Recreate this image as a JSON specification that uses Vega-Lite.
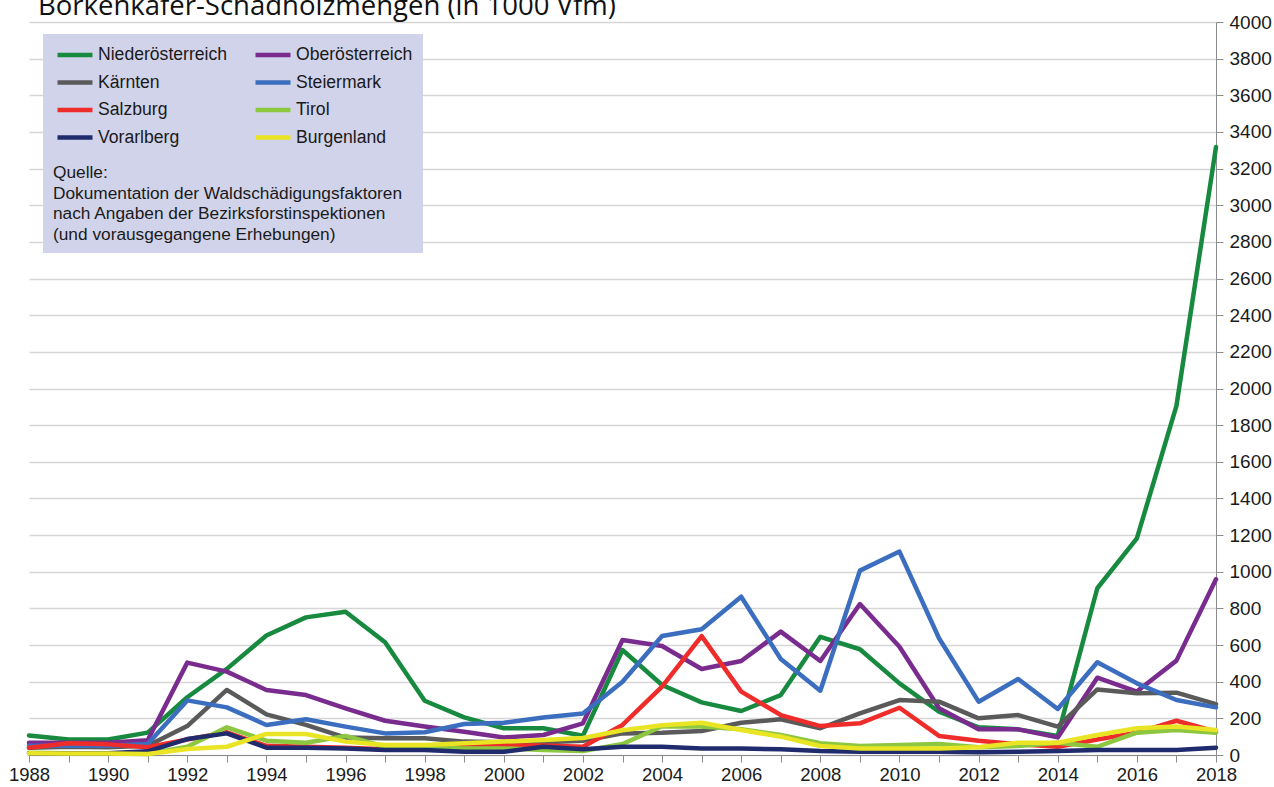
{
  "$schema": "https://vega.github.io/schema/vega-lite/v6.json",
  "width": 1187,
  "height": 733,
  "autosize": {"type": "none"},
  "padding": {"left": 29, "top": 22, "right": 58, "bottom": 32},
  "background": "white",
  "title": {
    "text": "Borkenkäfer-Schadholzmengen  (in 1000 Vfm)",
    "anchor": "start",
    "frame": "group",
    "dx": 9,
    "offset": -29,
    "baseline": "alphabetic",
    "font": "Open Sans",
    "fontSize": 27.5,
    "fontWeight": "normal",
    "color": "#111111"
  },
  "config": {
    "view": {"stroke": null},
    "font": "Liberation Sans"
  },
  "data": {
    "values": [
      {"Jahr":1988,"Land":"Niederösterreich","Wert":107},{"Jahr":1989,"Land":"Niederösterreich","Wert":84},{"Jahr":1990,"Land":"Niederösterreich","Wert":85},{"Jahr":1991,"Land":"Niederösterreich","Wert":122},{"Jahr":1992,"Land":"Niederösterreich","Wert":315},{"Jahr":1993,"Land":"Niederösterreich","Wert":470},{"Jahr":1994,"Land":"Niederösterreich","Wert":652},{"Jahr":1995,"Land":"Niederösterreich","Wert":751},{"Jahr":1996,"Land":"Niederösterreich","Wert":782},{"Jahr":1997,"Land":"Niederösterreich","Wert":615},{"Jahr":1998,"Land":"Niederösterreich","Wert":296},{"Jahr":1999,"Land":"Niederösterreich","Wert":205},{"Jahr":2000,"Land":"Niederösterreich","Wert":146},{"Jahr":2001,"Land":"Niederösterreich","Wert":146},{"Jahr":2002,"Land":"Niederösterreich","Wert":105},{"Jahr":2003,"Land":"Niederösterreich","Wert":573},{"Jahr":2004,"Land":"Niederösterreich","Wert":382},{"Jahr":2005,"Land":"Niederösterreich","Wert":287},{"Jahr":2006,"Land":"Niederösterreich","Wert":240},{"Jahr":2007,"Land":"Niederösterreich","Wert":327},{"Jahr":2008,"Land":"Niederösterreich","Wert":645},{"Jahr":2009,"Land":"Niederösterreich","Wert":577},{"Jahr":2010,"Land":"Niederösterreich","Wert":391},{"Jahr":2011,"Land":"Niederösterreich","Wert":236},{"Jahr":2012,"Land":"Niederösterreich","Wert":151},{"Jahr":2013,"Land":"Niederösterreich","Wert":140},{"Jahr":2014,"Land":"Niederösterreich","Wert":104},{"Jahr":2015,"Land":"Niederösterreich","Wert":910},{"Jahr":2016,"Land":"Niederösterreich","Wert":1182},{"Jahr":2017,"Land":"Niederösterreich","Wert":1905},{"Jahr":2018,"Land":"Niederösterreich","Wert":3318},
      {"Jahr":1988,"Land":"Oberösterreich","Wert":67},{"Jahr":1989,"Land":"Oberösterreich","Wert":67},{"Jahr":1990,"Land":"Oberösterreich","Wert":67},{"Jahr":1991,"Land":"Oberösterreich","Wert":80},{"Jahr":1992,"Land":"Oberösterreich","Wert":504},{"Jahr":1993,"Land":"Oberösterreich","Wert":455},{"Jahr":1994,"Land":"Oberösterreich","Wert":355},{"Jahr":1995,"Land":"Oberösterreich","Wert":327},{"Jahr":1996,"Land":"Oberösterreich","Wert":255},{"Jahr":1997,"Land":"Oberösterreich","Wert":187},{"Jahr":1998,"Land":"Oberösterreich","Wert":155},{"Jahr":1999,"Land":"Oberösterreich","Wert":127},{"Jahr":2000,"Land":"Oberösterreich","Wert":96},{"Jahr":2001,"Land":"Oberösterreich","Wert":109},{"Jahr":2002,"Land":"Oberösterreich","Wert":173},{"Jahr":2003,"Land":"Oberösterreich","Wert":628},{"Jahr":2004,"Land":"Oberösterreich","Wert":595},{"Jahr":2005,"Land":"Oberösterreich","Wert":469},{"Jahr":2006,"Land":"Oberösterreich","Wert":513},{"Jahr":2007,"Land":"Oberösterreich","Wert":673},{"Jahr":2008,"Land":"Oberösterreich","Wert":513},{"Jahr":2009,"Land":"Oberösterreich","Wert":824},{"Jahr":2010,"Land":"Oberösterreich","Wert":591},{"Jahr":2011,"Land":"Oberösterreich","Wert":255},{"Jahr":2012,"Land":"Oberösterreich","Wert":140},{"Jahr":2013,"Land":"Oberösterreich","Wert":140},{"Jahr":2014,"Land":"Oberösterreich","Wert":96},{"Jahr":2015,"Land":"Oberösterreich","Wert":422},{"Jahr":2016,"Land":"Oberösterreich","Wert":346},{"Jahr":2017,"Land":"Oberösterreich","Wert":515},{"Jahr":2018,"Land":"Oberösterreich","Wert":959},
      {"Jahr":1988,"Land":"Kärnten","Wert":40},{"Jahr":1989,"Land":"Kärnten","Wert":45},{"Jahr":1990,"Land":"Kärnten","Wert":42},{"Jahr":1991,"Land":"Kärnten","Wert":50},{"Jahr":1992,"Land":"Kärnten","Wert":158},{"Jahr":1993,"Land":"Kärnten","Wert":355},{"Jahr":1994,"Land":"Kärnten","Wert":222},{"Jahr":1995,"Land":"Kärnten","Wert":164},{"Jahr":1996,"Land":"Kärnten","Wert":95},{"Jahr":1997,"Land":"Kärnten","Wert":91},{"Jahr":1998,"Land":"Kärnten","Wert":91},{"Jahr":1999,"Land":"Kärnten","Wert":73},{"Jahr":2000,"Land":"Kärnten","Wert":69},{"Jahr":2001,"Land":"Kärnten","Wert":69},{"Jahr":2002,"Land":"Kärnten","Wert":78},{"Jahr":2003,"Land":"Kärnten","Wert":118},{"Jahr":2004,"Land":"Kärnten","Wert":122},{"Jahr":2005,"Land":"Kärnten","Wert":131},{"Jahr":2006,"Land":"Kärnten","Wert":176},{"Jahr":2007,"Land":"Kärnten","Wert":195},{"Jahr":2008,"Land":"Kärnten","Wert":146},{"Jahr":2009,"Land":"Kärnten","Wert":227},{"Jahr":2010,"Land":"Kärnten","Wert":300},{"Jahr":2011,"Land":"Kärnten","Wert":291},{"Jahr":2012,"Land":"Kärnten","Wert":200},{"Jahr":2013,"Land":"Kärnten","Wert":218},{"Jahr":2014,"Land":"Kärnten","Wert":155},{"Jahr":2015,"Land":"Kärnten","Wert":358},{"Jahr":2016,"Land":"Kärnten","Wert":337},{"Jahr":2017,"Land":"Kärnten","Wert":340},{"Jahr":2018,"Land":"Kärnten","Wert":278},
      {"Jahr":1988,"Land":"Steiermark","Wert":51},{"Jahr":1989,"Land":"Steiermark","Wert":50},{"Jahr":1990,"Land":"Steiermark","Wert":50},{"Jahr":1991,"Land":"Steiermark","Wert":60},{"Jahr":1992,"Land":"Steiermark","Wert":298},{"Jahr":1993,"Land":"Steiermark","Wert":260},{"Jahr":1994,"Land":"Steiermark","Wert":164},{"Jahr":1995,"Land":"Steiermark","Wert":195},{"Jahr":1996,"Land":"Steiermark","Wert":155},{"Jahr":1997,"Land":"Steiermark","Wert":118},{"Jahr":1998,"Land":"Steiermark","Wert":124},{"Jahr":1999,"Land":"Steiermark","Wert":169},{"Jahr":2000,"Land":"Steiermark","Wert":176},{"Jahr":2001,"Land":"Steiermark","Wert":205},{"Jahr":2002,"Land":"Steiermark","Wert":227},{"Jahr":2003,"Land":"Steiermark","Wert":400},{"Jahr":2004,"Land":"Steiermark","Wert":649},{"Jahr":2005,"Land":"Steiermark","Wert":686},{"Jahr":2006,"Land":"Steiermark","Wert":864},{"Jahr":2007,"Land":"Steiermark","Wert":524},{"Jahr":2008,"Land":"Steiermark","Wert":351},{"Jahr":2009,"Land":"Steiermark","Wert":1006},{"Jahr":2010,"Land":"Steiermark","Wert":1110},{"Jahr":2011,"Land":"Steiermark","Wert":637},{"Jahr":2012,"Land":"Steiermark","Wert":291},{"Jahr":2013,"Land":"Steiermark","Wert":415},{"Jahr":2014,"Land":"Steiermark","Wert":251},{"Jahr":2015,"Land":"Steiermark","Wert":506},{"Jahr":2016,"Land":"Steiermark","Wert":391},{"Jahr":2017,"Land":"Steiermark","Wert":300},{"Jahr":2018,"Land":"Steiermark","Wert":260},
      {"Jahr":1988,"Land":"Salzburg","Wert":40},{"Jahr":1989,"Land":"Salzburg","Wert":64},{"Jahr":1990,"Land":"Salzburg","Wert":58},{"Jahr":1991,"Land":"Salzburg","Wert":42},{"Jahr":1992,"Land":"Salzburg","Wert":85},{"Jahr":1993,"Land":"Salzburg","Wert":124},{"Jahr":1994,"Land":"Salzburg","Wert":50},{"Jahr":1995,"Land":"Salzburg","Wert":45},{"Jahr":1996,"Land":"Salzburg","Wert":40},{"Jahr":1997,"Land":"Salzburg","Wert":32},{"Jahr":1998,"Land":"Salzburg","Wert":40},{"Jahr":1999,"Land":"Salzburg","Wert":52},{"Jahr":2000,"Land":"Salzburg","Wert":52},{"Jahr":2001,"Land":"Salzburg","Wert":52},{"Jahr":2002,"Land":"Salzburg","Wert":45},{"Jahr":2003,"Land":"Salzburg","Wert":164},{"Jahr":2004,"Land":"Salzburg","Wert":373},{"Jahr":2005,"Land":"Salzburg","Wert":649},{"Jahr":2006,"Land":"Salzburg","Wert":346},{"Jahr":2007,"Land":"Salzburg","Wert":218},{"Jahr":2008,"Land":"Salzburg","Wert":158},{"Jahr":2009,"Land":"Salzburg","Wert":173},{"Jahr":2010,"Land":"Salzburg","Wert":258},{"Jahr":2011,"Land":"Salzburg","Wert":104},{"Jahr":2012,"Land":"Salzburg","Wert":78},{"Jahr":2013,"Land":"Salzburg","Wert":58},{"Jahr":2014,"Land":"Salzburg","Wert":45},{"Jahr":2015,"Land":"Salzburg","Wert":85},{"Jahr":2016,"Land":"Salzburg","Wert":122},{"Jahr":2017,"Land":"Salzburg","Wert":187},{"Jahr":2018,"Land":"Salzburg","Wert":127},
      {"Jahr":1988,"Land":"Tirol","Wert":12},{"Jahr":1989,"Land":"Tirol","Wert":10},{"Jahr":1990,"Land":"Tirol","Wert":8},{"Jahr":1991,"Land":"Tirol","Wert":5},{"Jahr":1992,"Land":"Tirol","Wert":45},{"Jahr":1993,"Land":"Tirol","Wert":151},{"Jahr":1994,"Land":"Tirol","Wert":78},{"Jahr":1995,"Land":"Tirol","Wert":67},{"Jahr":1996,"Land":"Tirol","Wert":104},{"Jahr":1997,"Land":"Tirol","Wert":45},{"Jahr":1998,"Land":"Tirol","Wert":42},{"Jahr":1999,"Land":"Tirol","Wert":36},{"Jahr":2000,"Land":"Tirol","Wert":36},{"Jahr":2001,"Land":"Tirol","Wert":27},{"Jahr":2002,"Land":"Tirol","Wert":22},{"Jahr":2003,"Land":"Tirol","Wert":60},{"Jahr":2004,"Land":"Tirol","Wert":157},{"Jahr":2005,"Land":"Tirol","Wert":155},{"Jahr":2006,"Land":"Tirol","Wert":140},{"Jahr":2007,"Land":"Tirol","Wert":109},{"Jahr":2008,"Land":"Tirol","Wert":64},{"Jahr":2009,"Land":"Tirol","Wert":49},{"Jahr":2010,"Land":"Tirol","Wert":55},{"Jahr":2011,"Land":"Tirol","Wert":60},{"Jahr":2012,"Land":"Tirol","Wert":42},{"Jahr":2013,"Land":"Tirol","Wert":49},{"Jahr":2014,"Land":"Tirol","Wert":67},{"Jahr":2015,"Land":"Tirol","Wert":45},{"Jahr":2016,"Land":"Tirol","Wert":122},{"Jahr":2017,"Land":"Tirol","Wert":136},{"Jahr":2018,"Land":"Tirol","Wert":122},
      {"Jahr":1988,"Land":"Vorarlberg","Wert":9},{"Jahr":1989,"Land":"Vorarlberg","Wert":9},{"Jahr":1990,"Land":"Vorarlberg","Wert":9},{"Jahr":1991,"Land":"Vorarlberg","Wert":20},{"Jahr":1992,"Land":"Vorarlberg","Wert":87},{"Jahr":1993,"Land":"Vorarlberg","Wert":118},{"Jahr":1994,"Land":"Vorarlberg","Wert":40},{"Jahr":1995,"Land":"Vorarlberg","Wert":40},{"Jahr":1996,"Land":"Vorarlberg","Wert":36},{"Jahr":1997,"Land":"Vorarlberg","Wert":27},{"Jahr":1998,"Land":"Vorarlberg","Wert":27},{"Jahr":1999,"Land":"Vorarlberg","Wert":18},{"Jahr":2000,"Land":"Vorarlberg","Wert":18},{"Jahr":2001,"Land":"Vorarlberg","Wert":45},{"Jahr":2002,"Land":"Vorarlberg","Wert":31},{"Jahr":2003,"Land":"Vorarlberg","Wert":45},{"Jahr":2004,"Land":"Vorarlberg","Wert":45},{"Jahr":2005,"Land":"Vorarlberg","Wert":36},{"Jahr":2006,"Land":"Vorarlberg","Wert":36},{"Jahr":2007,"Land":"Vorarlberg","Wert":31},{"Jahr":2008,"Land":"Vorarlberg","Wert":22},{"Jahr":2009,"Land":"Vorarlberg","Wert":18},{"Jahr":2010,"Land":"Vorarlberg","Wert":18},{"Jahr":2011,"Land":"Vorarlberg","Wert":18},{"Jahr":2012,"Land":"Vorarlberg","Wert":15},{"Jahr":2013,"Land":"Vorarlberg","Wert":18},{"Jahr":2014,"Land":"Vorarlberg","Wert":22},{"Jahr":2015,"Land":"Vorarlberg","Wert":27},{"Jahr":2016,"Land":"Vorarlberg","Wert":27},{"Jahr":2017,"Land":"Vorarlberg","Wert":27},{"Jahr":2018,"Land":"Vorarlberg","Wert":40},
      {"Jahr":1988,"Land":"Burgenland","Wert":10},{"Jahr":1989,"Land":"Burgenland","Wert":8},{"Jahr":1990,"Land":"Burgenland","Wert":8},{"Jahr":1991,"Land":"Burgenland","Wert":5},{"Jahr":1992,"Land":"Burgenland","Wert":33},{"Jahr":1993,"Land":"Burgenland","Wert":45},{"Jahr":1994,"Land":"Burgenland","Wert":115},{"Jahr":1995,"Land":"Burgenland","Wert":115},{"Jahr":1996,"Land":"Burgenland","Wert":73},{"Jahr":1997,"Land":"Burgenland","Wert":55},{"Jahr":1998,"Land":"Burgenland","Wert":55},{"Jahr":1999,"Land":"Burgenland","Wert":64},{"Jahr":2000,"Land":"Burgenland","Wert":73},{"Jahr":2001,"Land":"Burgenland","Wert":82},{"Jahr":2002,"Land":"Burgenland","Wert":93},{"Jahr":2003,"Land":"Burgenland","Wert":135},{"Jahr":2004,"Land":"Burgenland","Wert":162},{"Jahr":2005,"Land":"Burgenland","Wert":176},{"Jahr":2006,"Land":"Burgenland","Wert":136},{"Jahr":2007,"Land":"Burgenland","Wert":100},{"Jahr":2008,"Land":"Burgenland","Wert":49},{"Jahr":2009,"Land":"Burgenland","Wert":36},{"Jahr":2010,"Land":"Burgenland","Wert":36},{"Jahr":2011,"Land":"Burgenland","Wert":36},{"Jahr":2012,"Land":"Burgenland","Wert":42},{"Jahr":2013,"Land":"Burgenland","Wert":67},{"Jahr":2014,"Land":"Burgenland","Wert":67},{"Jahr":2015,"Land":"Burgenland","Wert":109},{"Jahr":2016,"Land":"Burgenland","Wert":146},{"Jahr":2017,"Land":"Burgenland","Wert":155},{"Jahr":2018,"Land":"Burgenland","Wert":136}
    ]
  },
  "mark": {"type": "line", "strokeWidth": 4.5, "strokeCap": "round", "strokeJoin": "round"},
  "encoding": {
    "x": {
      "field": "Jahr",
      "type": "quantitative",
      "scale": {"domain": [1988, 2018], "nice": false, "zero": false},
      "axis": {
        "title": null,
        "values": [1988,1989,1990,1991,1992,1993,1994,1995,1996,1997,1998,1999,2000,2001,2002,2003,2004,2005,2006,2007,2008,2009,2010,2011,2012,2013,2014,2015,2016,2017,2018],
        "format": "d",
        "labelExpr": "datum.value % 2 == 0 ? datum.label : ''",
        "labelFontSize": 18.5,
        "labelColor": "#1a1a1a",
        "labelPadding": 3,
        "labelFlush": false,
        "labelOverlap": false,
        "tickSize": 7,
        "tickColor": "#8c8c8c",
        "tickWidth": 1,
        "domainColor": "#8c8c8c",
        "domainWidth": 1,
        "grid": false
      }
    },
    "y": {
      "field": "Wert",
      "type": "quantitative",
      "scale": {"domain": [0, 4000], "nice": false},
      "axis": {
        "title": null,
        "orient": "right",
        "values": [0,200,400,600,800,1000,1200,1400,1600,1800,2000,2200,2400,2600,2800,3000,3200,3400,3600,3800,4000],
        "format": "d",
        "labelFontSize": 19,
        "labelColor": "#1a1a1a",
        "labelPadding": 6,
        "labelFlush": false,
        "tickSize": 7,
        "tickColor": "#8c8c8c",
        "domainColor": "#8c8c8c",
        "grid": true,
        "gridColor": "#d6d6d6",
        "gridWidth": 1.5
      }
    },
    "color": {
      "field": "Land",
      "type": "nominal",
      "scale": {
        "domain": ["Niederösterreich","Oberösterreich","Kärnten","Steiermark","Salzburg","Tirol","Vorarlberg","Burgenland"],
        "range": ["#188a40","#7a2b8e","#5a5a5a","#3b6ebe","#ee2d2b","#8dc63f","#1f2b6c","#e9e524"]
      },
      "legend": {
        "orient": "none",
        "direction": "horizontal",
        "legendX": 14,
        "legendY": 12,
        "columns": 2,
        "columnPadding": 18,
        "rowPadding": 7.5,
        "padding": 10,
        "symbolOffset": 11,
        "fillColor": "#d1d3ea",
        "symbolType": "M-2,0H2",
        "symbolStrokeWidth": 4.5,
        "symbolSize": 306,
        "symbolFillColor": "transparent",
        "labelFont": "Liberation Sans",
        "labelFontSize": 17.6,
        "labelColor": "#1a1a1a",
        "labelOffset": 12,
        "labelLimit": 300,
        "title": ["Quelle:", "Dokumentation der Waldschädigungsfaktoren", "nach Angaben der Bezirksforstinspektionen", "(und vorausgegangene Erhebungen)"],
        "titleOrient": "bottom",
        "titleAnchor": "start",
        "titleFont": "Liberation Sans",
        "titleFontSize": 17.3,
        "titleFontWeight": "normal",
        "titleColor": "#1a1a1a",
        "titleLineHeight": 20.5,
        "titlePadding": 17,
        "titleLimit": 600
      }
    }
  }
}
